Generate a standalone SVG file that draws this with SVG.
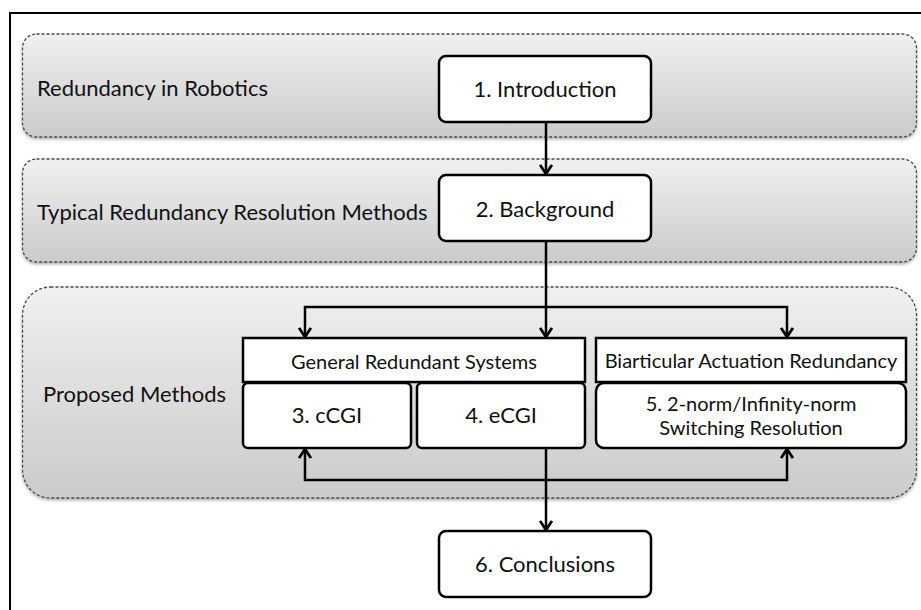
<svg xmlns="http://www.w3.org/2000/svg" width="921" height="610" viewBox="0 0 921 610">
  <defs>
    <linearGradient id="bandFill" x1="0" y1="0" x2="0" y2="1">
      <stop offset="0" stop-color="#f0f0f0"/>
      <stop offset="1" stop-color="#cbcbcb"/>
    </linearGradient>
    <filter id="bandShadow" x="-5%" y="-10%" width="110%" height="125%">
      <feDropShadow dx="0" dy="2" stdDeviation="1.5" flood-color="#000" flood-opacity="0.3"/>
    </filter>
    <marker id="arrow" markerUnits="userSpaceOnUse" markerWidth="14" markerHeight="14" refX="7" refY="5" orient="auto" viewBox="0 0 8 10">
      <path d="M0.5,0.8 L7,5 L0.5,9.2" fill="none" stroke="#000" stroke-width="2"/>
    </marker>
    <style>
      .band { fill: url(#bandFill); stroke: #4a4a4a; stroke-width: 1.3; stroke-dasharray: 3 2; filter: url(#bandShadow); }
      .box { fill: #fff; stroke: #000; stroke-width: 2.5; }
      .wire { fill: none; stroke: #000; stroke-width: 2.5; }
      .wire.arr { marker-end: url(#arrow); }
      text { font-family: Lato, "Open Sans", "Liberation Sans", sans-serif; fill: #111; }
      .band-label { font-size: 22px; }
      .node-label { font-size: 22px; text-anchor: middle; }
      .node-label.small { font-size: 20px; }
      .head-label { font-size: 20px; text-anchor: middle; }
    </style>
  </defs>

  <rect width="921" height="610" fill="#fff"/>
  <!-- outer frame -->
  <rect x="10" y="13" width="930" height="620" fill="none" stroke="#000" stroke-width="2"/>

  <!-- section bands -->
  <g id="band-redundancy">
    <rect class="band" x="22.5" y="34" width="894" height="103" rx="14"/>
    <text class="band-label" x="37" y="96">Redundancy in Robotics</text>
  </g>
  <g id="band-typical">
    <rect class="band" x="22.5" y="159" width="894" height="103" rx="14"/>
    <text class="band-label" x="37" y="220">Typical Redundancy Resolution Methods</text>
  </g>
  <g id="band-proposed">
    <rect class="band" x="22.5" y="287" width="894" height="211" rx="28"/>
    <text class="band-label" x="43" y="402">Proposed Methods</text>
  </g>

  <!-- connectors -->
  <g id="connectors">
    <path class="wire arr" d="M546,122 V174"/>
    <path class="wire arr" d="M546,241 V337"/>
    <path class="wire arr" d="M546,307 H305 V337"/>
    <path class="wire arr" d="M546,307 H787 V337"/>
    <path class="wire arr" d="M546,448 V530"/>
    <path class="wire arr" d="M546,480 H305 V449"/>
    <path class="wire arr" d="M546,480 H787 V449"/>
  </g>

  <!-- chapter nodes -->
  <g id="node-introduction">
    <rect class="box" x="439" y="56" width="212" height="66" rx="7"/>
    <text class="node-label" x="545" y="97">1. Introduction</text>
  </g>
  <g id="node-background">
    <rect class="box" x="439" y="175" width="212" height="66" rx="7"/>
    <text class="node-label" x="545" y="217">2. Background</text>
  </g>
  <g id="head-general">
    <rect class="box" x="243" y="338" width="342" height="44"/>
    <text class="head-label" x="414" y="369">General Redundant Systems</text>
  </g>
  <g id="head-biarticular">
    <rect class="box" x="596" y="338" width="310" height="44"/>
    <text class="head-label" x="751" y="368">Biarticular Actuation Redundancy</text>
  </g>
  <g id="node-ccgi">
    <rect class="box" x="243" y="383" width="168" height="65" rx="5"/>
    <text class="node-label" x="327" y="423">3. cCGI</text>
  </g>
  <g id="node-ecgi">
    <rect class="box" x="417" y="383" width="168" height="65" rx="5"/>
    <text class="node-label" x="501" y="423">4. eCGI</text>
  </g>
  <g id="node-switching">
    <rect class="box" x="596" y="383" width="310" height="65" rx="8"/>
    <text class="node-label small" x="751" y="411">5. 2-norm/Infinity-norm</text>
    <text class="node-label small" x="751" y="435">Switching Resolution</text>
  </g>
  <g id="node-conclusions">
    <rect class="box" x="439" y="531" width="212" height="66" rx="7"/>
    <text class="node-label" x="545" y="572">6. Conclusions</text>
  </g>
</svg>
